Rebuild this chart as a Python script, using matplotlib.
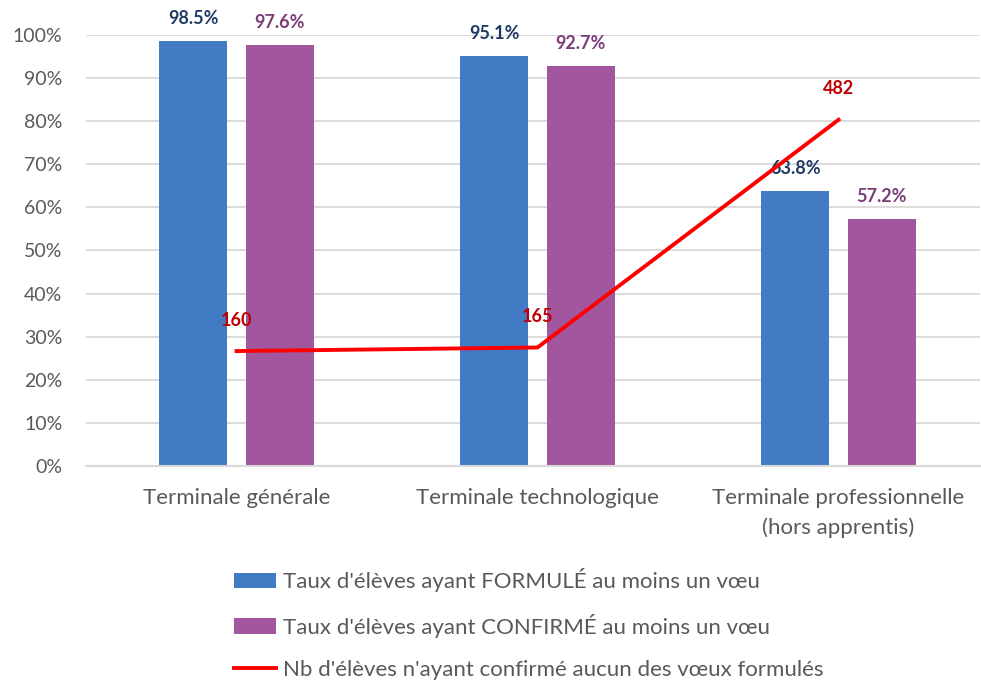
import numpy as np
import matplotlib.pyplot as plt
from matplotlib.ticker import PercentFormatter

plt.rcParams['font.family'] = ['Lato', 'DejaVu Sans']

categories = ['Terminale générale', 'Terminale technologique', 'Terminale professionnelle\n(hors apprentis)']
formule = [98.5, 95.1, 63.8]
confirme = [97.6, 92.7, 57.2]
aucun = [160, 165, 482]

blue = '#417BC4'
purple = '#A2569E'
red = '#FF0000'

fig = plt.figure(figsize=(9.81, 6.83), dpi=100)
ax = fig.add_axes([86 / 981, 1 - 466 / 683, 894 / 981, 431 / 683])
x = np.arange(len(categories))
w = 0.226
off = 0.143

b1 = ax.bar(x - off, formule, w, color=blue, label="Taux d'élèves ayant FORMULÉ au moins un vœu", zorder=2)
b2 = ax.bar(x + off, confirme, w, color=purple, label="Taux d'élèves ayant CONFIRMÉ au moins un vœu", zorder=2)

for xi, v in zip(x, formule):
    ax.text(xi - off, v + 3.3, f'{v:.1f}%', ha='center', va='bottom', fontsize=13,
            fontweight='bold', color='#1F3B63')
for xi, v in zip(x, confirme):
    ax.text(xi + off, v + 3.3, f'{v:.1f}%', ha='center', va='bottom', fontsize=13,
            fontweight='bold', color='#7B3D77')

ax.set_ylim(0, 100)
ax.set_xlim(-0.5, 2.47)
ax.set_yticks(np.arange(0, 101, 10))
ax.yaxis.set_major_formatter(PercentFormatter(decimals=0))
ax.grid(axis='y', color='#D9D9D9', linewidth=1.3, zorder=0)
ax.set_axisbelow(True)
for s in ['top', 'right', 'left']:
    ax.spines[s].set_visible(False)
ax.spines['bottom'].set_color('#D9D9D9')
ax.spines['bottom'].set_linewidth(1.5)
ax.tick_params(axis='y', length=0, labelsize=14, colors='#595959', pad=17)
ax.tick_params(axis='x', length=0, labelsize=16, colors='#595959', pad=16)
ax.set_xticks(x)
ax.set_xticklabels(categories, linespacing=1.55)

ax2 = ax.twinx()
ax2.set_ylim(0, 600)
ln, = ax2.plot(x, aucun, color=red, linewidth=2.8, label="Nb d'élèves n'ayant confirmé aucun des vœux formulés", zorder=3)
for xi, v in zip(x, aucun):
    ax2.text(xi, v + 31, str(v), ha='center', va='bottom', fontsize=13,
             fontweight='bold', color='#C00000')
ax2.axis('off')

fig.legend(handles=[b1, b2, ln], loc='upper left', bbox_to_anchor=(223 / 981, 1 - 557 / 683),
           frameon=False, fontsize=16, labelcolor='#595959', handlelength=1.9,
           handleheight=0.7, handletextpad=0.3, labelspacing=0.98, borderpad=0)

fig.savefig('out.png', dpi=100)
